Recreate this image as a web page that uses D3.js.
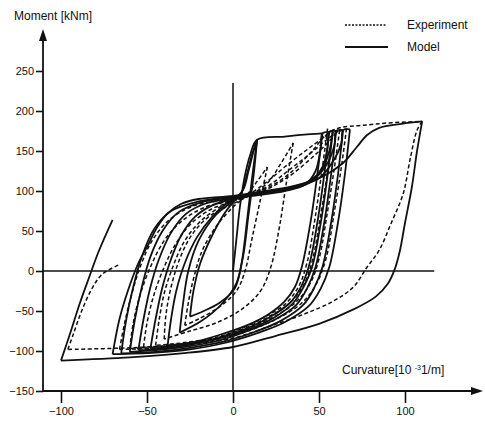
<!DOCTYPE html>
<html><head><meta charset="utf-8">
<script src="https://cdn.jsdelivr.net/npm/d3@7/dist/d3.min.js"></script>
<style>
body{margin:0;background:#fff;}
text{font-family:'Liberation Sans Narrow','Liberation Sans',Arial,sans-serif;fill:#111;}
</style></head>
<body><svg id="c" width="485" height="423"></svg>
<script>
// ---- tick labels ----
const xTicks = [-100, -50, 0, 50, 100];
const yTicks = [-150, -100, -50, 0, 50, 100, 150, 200, 250];

// ---- Model (solid) half-cycles: [curvature, moment] ----
const modelVirgin = [[0,0],[2,40],[4,80],[7,120],[10,145],[14,164],[30,168],[45,171],[52,172]];
const modelInnerU1 = [[14,164],[11,115],[8,60],[5,10],[1,-22],[-8,-40],[-17,-50],[-25,-57]];
const modelInnerR1 = [[-25,-57],[-23,-25],[-19,10],[-12,45],[-5,72],[0,86],[5,98],[8,120],[11,145],[14,164]];
const modelInnerU2 = [[14,164],[12,120],[9,70],[6,20],[2,-15],[-6,-40],[-18,-62],[-31,-77]];
const modelInnerR2 = [[-31,-77],[-29,-40],[-26,0],[-20,38],[-10,70],[0,88],[6,102],[9,125],[12,150],[14,164]];
const modelUnloadA = [[52,172],[49,120],[45,60],[40,5],[36,-20],[30,-38],[20,-55],[8,-68],[-8,-80],[-25,-90],[-40,-95],[-48,-97]];
const modelReloadA = [[-48,-97],[-45,-60],[-41,-20],[-36,15],[-30,45],[-22,68],[-12,82],[0,90],[15,95],[30,100],[42,108],[48,125],[51,155],[52,172],[56,174]];
const modelUnloadH = [[58,174],[55,120],[51,60],[46,5],[41,-20],[35,-40],[24,-58],[10,-72],[-8,-84],[-25,-90],[-38,-93]];
const modelReloadH = [[-38,-93],[-36,-60],[-33,-25],[-28,10],[-21,42],[-12,68],[-4,84],[2,92],[15,97],[30,103],[44,112],[52,128],[56,150],[58,174]];
const modelUnloadB = [[56,174],[53,120],[49,60],[44,5],[39,-22],[33,-40],[22,-57],[10,-70],[-5,-82],[-25,-92],[-45,-98],[-55,-99]];
const modelReloadB = [[-55,-99],[-52,-60],[-48,-20],[-43,15],[-36,48],[-27,72],[-15,85],[0,91],[15,96],[30,101],[44,110],[52,130],[55,155],[56,174],[60,175]];
const modelUnloadC = [[60,175],[57,120],[53,60],[48,5],[43,-22],[37,-42],[25,-60],[12,-72],[-5,-85],[-25,-94],[-45,-99],[-60,-101]];
const modelReloadC = [[-60,-101],[-57,-60],[-53,-20],[-48,18],[-41,50],[-32,73],[-18,86],[0,92],[15,97],[32,103],[46,113],[55,135],[59,158],[60,175],[64,176]];
const modelUnloadD = [[64,176],[61,120],[57,60],[52,5],[47,-22],[41,-42],[28,-62],[14,-75],[-5,-88],[-25,-96],[-45,-101],[-65,-103]];
const modelReloadD = [[-65,-103],[-62,-60],[-58,-20],[-53,18],[-46,52],[-36,75],[-20,87],[0,93],[15,98],[34,104],[50,116],[59,140],[63,160],[64,176],[68,177]];
const modelUnloadE = [[68,177],[65,120],[61,60],[56,5],[51,-22],[44,-44],[30,-64],[15,-77],[-5,-90],[-25,-98],[-45,-102],[-70,-104]];
const modelReloadE = [[-70,-104],[-66,-60],[-61,-24],[-55,10],[-50,30],[-44,55],[-38,72],[-30,84],[-20,90],[0,94],[15,99],[35,106],[52,118],[64,135],[72,155],[78,170],[85,179],[98,184],[110,187]];
const modelUnloadF = [[110,187],[107,150],[104,105],[100,60],[97,25],[94,2],[90,-16],[83,-32],[70,-48],[50,-66],[25,-81],[0,-95],[-30,-103],[-60,-108],[-100,-112]];
const modelReloadF = [[-100,-112],[-95,-80],[-89,-40],[-84,-10],[-78,25],[-70,64]];

// ---- Experiment (dashed) half-cycles ----
const expInnerU1 = [[20,130],[16,90],[11,40],[7,0],[2,-25],[-8,-45],[-20,-60],[-28,-68]];
const expInnerR1 = [[-28,-68],[-26,-40],[-23,-10],[-18,25],[-10,55],[0,80],[8,95],[14,112],[20,130]];
const expInnerU2 = [[35,160],[31,110],[27,55],[22,5],[16,-25],[5,-48],[-10,-65],[-25,-75],[-40,-85]];
const expInnerR2 = [[-40,-85],[-39,-55],[-36,-20],[-31,15],[-24,45],[-14,68],[0,84],[10,95],[20,110],[28,135],[35,160]];
const expUnload1 = [[55,178],[52,130],[48,70],[43,10],[38,-20],[30,-42],[18,-58],[5,-72],[-10,-84],[-30,-92],[-52,-95]];
const expReload1 = [[-52,-95],[-50,-65],[-46,-30],[-40,5],[-33,35],[-24,60],[-12,78],[0,87],[10,95],[21,107],[33,127],[45,147],[55,165],[62,176]];
const expUnload5 = [[58,176],[55,125],[51,70],[46,12],[41,-18],[33,-40],[20,-58],[5,-73],[-12,-84],[-30,-90],[-45,-93]];
const expReload5 = [[-45,-93],[-43,-62],[-40,-28],[-35,5],[-28,38],[-18,64],[-6,82],[0,88],[10,97],[20,112],[30,130],[42,150],[52,166],[58,176]];
const expUnload2 = [[62,176],[59,130],[55,75],[50,15],[45,-15],[37,-38],[24,-57],[8,-72],[-10,-85],[-35,-94],[-60,-97]];
const expReload2 = [[-60,-97],[-58,-65],[-54,-30],[-48,5],[-40,38],[-30,62],[-16,80],[0,88],[15,98],[25,108],[35,122],[45,140],[55,160],[60,172],[66,178]];
const expUnload3 = [[66,178],[63,130],[59,75],[54,15],[48,-18],[40,-40],[27,-58],[10,-74],[-10,-86],[-35,-95],[-66,-98]];
const expReload3 = [[-66,-98],[-63,-65],[-59,-30],[-54,5],[-47,38],[-37,64],[-22,82],[0,90],[12,97],[22,106],[34,124],[46,150],[55,172],[62,179],[75,182],[90,185],[110,187]];
const expUnload4 = [[110,187],[107,176],[103,140],[99,97],[92,60],[85,26],[78,5],[70,-20],[58,-38],[40,-55],[20,-70],[0,-84],[-30,-92],[-60,-96],[-96,-98]];
const expReload4 = [[-96,-98],[-93,-80],[-88,-50],[-82,-22],[-76,-4],[-66,8]];

const modelSeries = [modelVirgin, modelInnerU1, modelInnerR1, modelInnerU2, modelInnerR2,
  modelUnloadA, modelReloadA, modelUnloadH, modelReloadH, modelUnloadB, modelReloadB,
  modelUnloadC, modelReloadC, modelUnloadD, modelReloadD, modelUnloadE, modelReloadE,
  modelUnloadF, modelReloadF];
const expSeries = [expInnerU1, expInnerR1, expInnerU2, expInnerR2, expUnload1, expReload1,
  expUnload5, expReload5, expUnload2, expReload2, expUnload3, expReload3, expUnload4, expReload4];

const svg = d3.select('#c');
const x = d3.scaleLinear().domain([-100, 100]).range([61, 405]);
const y = d3.scaleLinear().domain([-150, 250]).range([391, 71]);
const axisX0 = 43, axisY0 = y(-150);

// crosshair lines
svg.append('line').attr('x1', x(0)).attr('x2', x(0)).attr('y1', y(-150)).attr('y2', y(235))
  .attr('stroke', '#111').attr('stroke-width', 1.5);
svg.append('line').attr('x1', axisX0).attr('x2', x(117)).attr('y1', y(0)).attr('y2', y(0))
  .attr('stroke', '#111').attr('stroke-width', 1.6);

const line = d3.line().x(d => x(d[0])).y(d => y(d[1])).curve(d3.curveCatmullRom.alpha(0.5));

svg.append('g').selectAll('path').data(expSeries).join('path')
  .attr('d', line).attr('fill', 'none').attr('stroke', '#111')
  .attr('stroke-width', 1.5).attr('stroke-dasharray', '4,2.5');
svg.append('g').selectAll('path').data(modelSeries).join('path')
  .attr('d', line).attr('fill', 'none').attr('stroke', '#111')
  .attr('stroke-width', 1.8);

// axes
const ya = svg.append('g').attr('transform', `translate(${axisX0},0)`)
  .call(d3.axisLeft(y).tickValues(yTicks).tickSize(7).tickPadding(2).tickFormat(d3.format('d')));
const xa = svg.append('g').attr('transform', `translate(0,${axisY0})`)
  .call(d3.axisBottom(x).tickValues(xTicks).tickSize(12).tickPadding(4).tickFormat(d3.format('d')));
[ya, xa].forEach(g => {
  g.select('.domain').remove();
  g.selectAll('.tick line').attr('stroke', '#111').attr('stroke-width', 1.6);
  g.selectAll('.tick text').attr('font-size', 11).attr('fill', '#111')
    .style('font-family', "'Liberation Sans Narrow','Liberation Sans',Arial,sans-serif");
});
// axis lines with arrows
svg.append('line').attr('x1', axisX0).attr('x2', axisX0).attr('y1', axisY0).attr('y2', 38)
  .attr('stroke', '#111').attr('stroke-width', 1.8);
svg.append('path').attr('d', `M${axisX0},29 L${axisX0-4},41 L${axisX0+4},41 Z`).attr('fill', '#111');
svg.append('line').attr('x1', axisX0).attr('x2', 474).attr('y1', axisY0).attr('y2', axisY0)
  .attr('stroke', '#111').attr('stroke-width', 1.8);
svg.append('path').attr('d', `M483,${axisY0} L471,${axisY0-4} L471,${axisY0+4} Z`).attr('fill', '#111');

// axis titles
svg.append('text').attr('x', 14).attr('y', 20).attr('font-size', 12).text('Moment [kNm]');
const xt = svg.append('text').attr('x', 342).attr('y', 374).attr('font-size', 12);
xt.append('tspan').text('Curvature[10 ');
xt.append('tspan').attr('dy', -4).attr('font-size', 7).text('-3');
xt.append('tspan').attr('dy', 4).text('1/m]');

// legend
svg.append('line').attr('x1', 345).attr('x2', 387).attr('y1', 25).attr('y2', 25)
  .attr('stroke', '#111').attr('stroke-width', 1.3).attr('stroke-dasharray', '2,1.5');
svg.append('line').attr('x1', 345).attr('x2', 388).attr('y1', 47).attr('y2', 47)
  .attr('stroke', '#111').attr('stroke-width', 2.2);
svg.append('text').attr('x', 407).attr('y', 29).attr('font-size', 12).text('Experiment');
svg.append('text').attr('x', 407).attr('y', 51).attr('font-size', 12).text('Model');
</script></body></html>
